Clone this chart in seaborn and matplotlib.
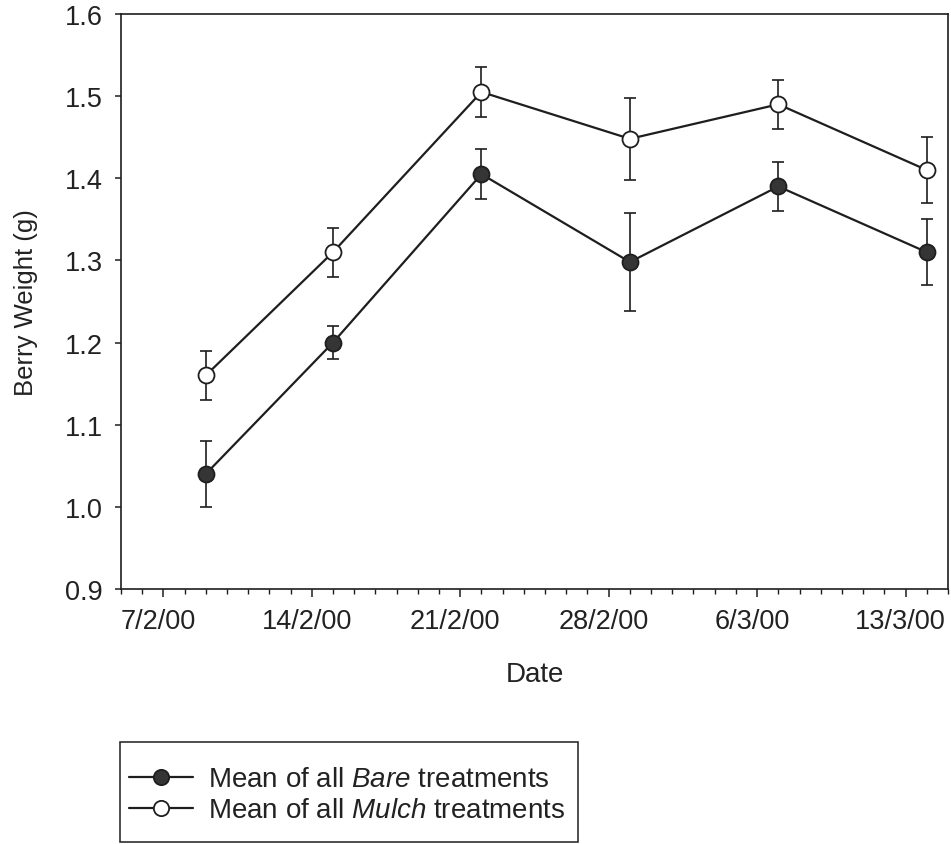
import matplotlib
matplotlib.use("Agg")
import matplotlib.pyplot as plt
import matplotlib.dates as mdates
import matplotlib.transforms as mtransforms
from matplotlib.lines import Line2D
from matplotlib.patches import Rectangle
from matplotlib.ticker import FormatStrFormatter
import pandas as pd
import seaborn as sns

# Sampling dates and mean berry weights (g) with their error bars
dates = ["2000-02-09", "2000-02-15", "2000-02-22", "2000-02-29", "2000-03-07", "2000-03-14"]
bare_mean = [1.04, 1.20, 1.405, 1.298, 1.39, 1.31]
bare_err = [0.04, 0.02, 0.03, 0.06, 0.03, 0.04]
mulch_mean = [1.16, 1.31, 1.505, 1.448, 1.49, 1.41]
mulch_err = [0.03, 0.03, 0.03, 0.05, 0.03, 0.04]

series_names = ["Bare", "Mulch"]
legend_labels = [r"Mean of all $\mathit{Bare}$ treatments",
                 r"Mean of all $\mathit{Mulch}$ treatments"]

x_tick_dates = ["2000-02-07", "2000-02-14", "2000-02-21", "2000-02-28", "2000-03-06", "2000-03-13"]
x_tick_labels = ["7/2/00", "14/2/00", "21/2/00", "28/2/00", "6/3/00", "13/3/00"]
y_ticks = [0.9, 1.0, 1.1, 1.2, 1.3, 1.4, 1.5, 1.6]

sns.set_theme(style="white")
plt.rcParams["font.family"] = ["Liberation Sans", "DejaVu Sans"]
plt.rcParams["mathtext.fontset"] = "custom"
plt.rcParams["mathtext.rm"] = "Liberation Sans"
plt.rcParams["mathtext.it"] = "Liberation Sans:italic"

df = pd.DataFrame({
    "Date": pd.to_datetime(dates * 2),
    "Weight": bare_mean + mulch_mean,
    "Err": bare_err + mulch_err,
    "Treatment": ["Bare"] * len(dates) + ["Mulch"] * len(dates),
})

ink = "#1e1e1e"
text_col = "#222222"
fills = {"Bare": "#353535", "Mulch": "white"}
msize = 11.5

fig = plt.figure(figsize=(9.51, 8.45), dpi=100)
ax = fig.add_axes([0.1272, 0.3018, 0.8696, 0.6805])

for name in series_names:
    sub = df[df["Treatment"] == name]
    ax.errorbar(sub["Date"], sub["Weight"], yerr=sub["Err"], fmt="none",
                ecolor=ink, elinewidth=1.2, capsize=4.5, capthick=1.2, zorder=2)

sns.lineplot(data=df, x="Date", y="Weight", hue="Treatment",
             palette={"Bare": ink, "Mulch": ink}, linewidth=1.6,
             legend=False, ax=ax, zorder=3)
for name in series_names:
    sub = df[df["Treatment"] == name]
    ax.plot(sub["Date"], sub["Weight"], linestyle="none", marker="o",
            markersize=msize, markerfacecolor=fills[name],
            markeredgecolor=ink, markeredgewidth=1.3, zorder=4)

ax.set_xlim(pd.Timestamp("2000-02-05"), pd.Timestamp("2000-03-15"))
ax.set_ylim(y_ticks[0], y_ticks[-1])

ax.set_xticks(pd.to_datetime(x_tick_dates))
ax.set_xticklabels(x_tick_labels)
ax.xaxis.set_minor_locator(mdates.DayLocator())
ax.set_yticks(y_ticks)
ax.yaxis.set_major_formatter(FormatStrFormatter("%.1f"))

ax.tick_params(axis="x", which="major", direction="out", length=6, width=1.1,
               color=ink, labelsize=19.5, pad=8, bottom=True)
ax.tick_params(axis="x", which="minor", direction="out", length=3.5, width=1.0,
               color=ink, bottom=True)
ax.tick_params(axis="y", which="major", direction="out", length=4, width=1.1,
               color=ink, labelsize=19.5, pad=9, left=True)

shift = mtransforms.ScaledTranslation(-5 / 100, 0, fig.dpi_scale_trans)
for lab in ax.get_xticklabels():
    lab.set_transform(lab.get_transform() + shift)
for lab in ax.get_xticklabels() + ax.get_yticklabels():
    lab.set_color(text_col)

for side in ["left", "right", "top", "bottom"]:
    ax.spines[side].set_visible(True)
    ax.spines[side].set_color(ink)
    ax.spines[side].set_linewidth(1.2)

ax.set_xlabel("Date", fontsize=20, color=text_col)
ax.set_ylabel("Berry Weight (g)", fontsize=18.5, color=text_col)
ax.xaxis.set_label_coords(0.5, -0.125)
ax.yaxis.set_label_coords(-0.10, 0.5)

handles = [
    Line2D([], [], color=ink, linewidth=1.6, marker="o", markersize=msize - 0.5,
           markerfacecolor=fills[name], markeredgecolor=ink, markeredgewidth=1.3)
    for name in series_names
]
leg = fig.legend(handles, legend_labels, loc="center left",
                 bbox_to_anchor=(129 / 951, 1 - 796 / 845),
                 bbox_transform=fig.transFigure,
                 fontsize=20, frameon=False, borderpad=0, labelspacing=0.18,
                 handlelength=2.3, handletextpad=0.55, borderaxespad=0)
for t in leg.get_texts():
    t.set_color(text_col)

# Box drawn around the key
fig.patches.append(Rectangle((120 / 951, 2 / 845), 458 / 951, 100 / 845,
                             transform=fig.transFigure, fill=False,
                             edgecolor=ink, linewidth=1.1))

fig.savefig("out.png", dpi=100)
